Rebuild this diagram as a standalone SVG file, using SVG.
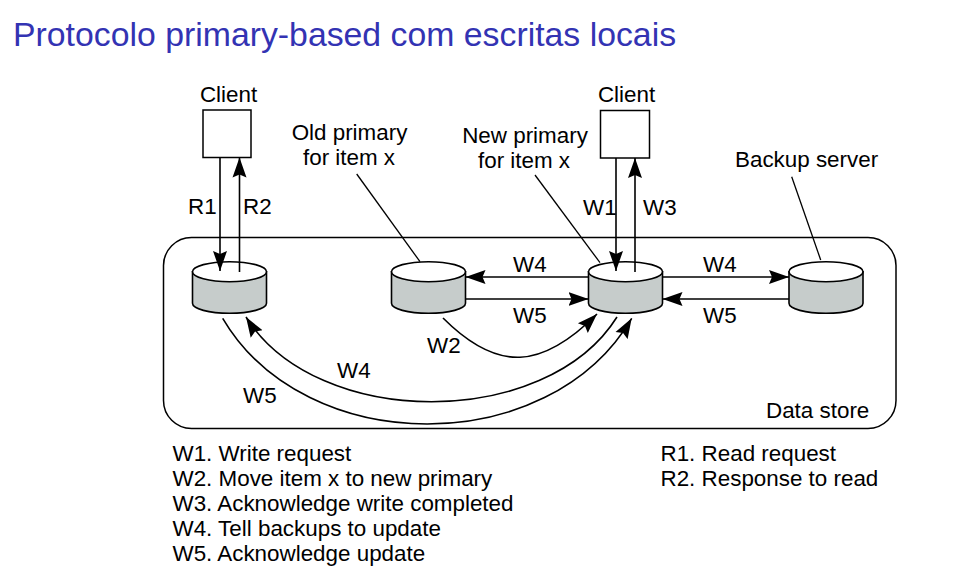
<svg xmlns="http://www.w3.org/2000/svg" width="977" height="580" viewBox="0 0 977 580">
<style>
text{font-family:"Liberation Sans",Arial,sans-serif;font-size:22.4px;fill:#000}
.title{font-size:33.8px;fill:#3333b3}
.mid{text-anchor:middle}
.box{fill:#fff;stroke:#000;stroke-width:1.5}
.store{fill:none;stroke:#000;stroke-width:1.5}
.body{fill:#c6cccb;stroke:#000;stroke-width:1.6}
.top{fill:#fff;stroke:#000;stroke-width:1.6}
.conn{fill:none;stroke:#000;stroke-width:1.6;marker-end:url(#ah)}
.lead{fill:none;stroke:#000;stroke-width:1.3}
</style>
<defs>
<marker id="ah" markerUnits="userSpaceOnUse" markerWidth="22" markerHeight="16" viewBox="0 0 22 16" refX="20" refY="8" orient="auto">
<path d="M0,1 L20,8 L0,15 L3,8 Z" fill="#000"/>
</marker>
</defs>
<rect width="977" height="580" fill="#fff"/>
<text class="title" x="13" y="46">Protocolo primary-based com escritas locais</text>

<g id="datastore">
<rect class="store" x="163.5" y="237.5" width="732.5" height="191" rx="28" ry="28"/>
<text x="766" y="418">Data store</text>
</g>

<g id="client1">
<rect class="box" x="203" y="110" width="48" height="47.5"/>
<text class="mid" x="228.5" y="102">Client</text>
</g>
<g id="client2">
<rect class="box" x="600.5" y="110.5" width="49" height="47.5"/>
<text class="mid" x="626.5" y="102">Client</text>
</g>

<g id="replica1">
<path class="body" d="M192.5,271.7 L192.5,303.3 A37,10 0 0 0 266.5,303.3 L266.5,271.7 Z"/>
<ellipse class="top" cx="229.5" cy="271.7" rx="37" ry="10"/>
</g>
<g id="oldprimary">
<path class="body" d="M391.5,271.7 L391.5,303.3 A37,10 0 0 0 465.5,303.3 L465.5,271.7 Z"/>
<ellipse class="top" cx="428.5" cy="271.7" rx="37" ry="10"/>
<text class="mid" x="349.5" y="140">Old primary</text>
<text class="mid" x="349" y="165">for item x</text>
<line class="lead" x1="356.7" y1="174" x2="420" y2="261.7"/>
</g>
<g id="newprimary">
<path class="body" d="M588.5,271.7 L588.5,303.3 A37,10 0 0 0 662.5,303.3 L662.5,271.7 Z"/>
<ellipse class="top" cx="625.5" cy="271.7" rx="37" ry="10"/>
<text class="mid" x="525" y="143">New primary</text>
<text class="mid" x="524" y="168">for item x</text>
<line class="lead" x1="535" y1="175" x2="600" y2="262.7"/>
</g>
<g id="backup">
<path class="body" d="M789,271.7 L789,303.3 A37,10 0 0 0 863,303.3 L863,271.7 Z"/>
<ellipse class="top" cx="826" cy="271.7" rx="37" ry="10"/>
<text x="735" y="167">Backup server</text>
<line class="lead" x1="791.7" y1="176.7" x2="820.7" y2="260"/>
</g>

<g id="connectors">
<line class="conn" x1="220" y1="157.5" x2="220" y2="271"/>
<line class="conn" x1="239.5" y1="272" x2="239.5" y2="157.5"/>
<line class="conn" x1="616" y1="158" x2="616" y2="271"/>
<line class="conn" x1="635" y1="272" x2="635" y2="158"/>
<line class="conn" x1="588.5" y1="277" x2="465.5" y2="277"/>
<line class="conn" x1="465.5" y1="299" x2="588.5" y2="299"/>
<line class="conn" x1="662.5" y1="277" x2="789" y2="277"/>
<line class="conn" x1="789" y1="299" x2="662.5" y2="299"/>
<path class="conn" d="M443,318 C498,373 542,369 597,314"/>
<path class="conn" d="M617,317 C546,430 317,430 246,317"/>
<path class="conn" d="M222.7,318.3 C305.6,459.2 548.8,459.2 631.7,318.3"/>
<text x="188" y="214">R1</text>
<text x="243" y="214">R2</text>
<text x="583" y="215">W1</text>
<text x="643" y="215">W3</text>
<text x="513" y="272">W4</text>
<text x="513" y="323">W5</text>
<text x="703" y="272">W4</text>
<text x="703" y="323">W5</text>
<text x="427" y="353">W2</text>
<text x="337" y="378">W4</text>
<text x="243" y="403">W5</text>
</g>

<g id="legend">
<text x="172.5" y="461">W1. Write request</text>
<text x="172.5" y="486">W2. Move item x to new primary</text>
<text x="172.5" y="511">W3. Acknowledge write completed</text>
<text x="172.5" y="536">W4. Tell backups to update</text>
<text x="172.5" y="560.5">W5. Acknowledge update</text>
<text x="660.5" y="461">R1. Read request</text>
<text x="660.5" y="486">R2. Response to read</text>
</g>
</svg>
